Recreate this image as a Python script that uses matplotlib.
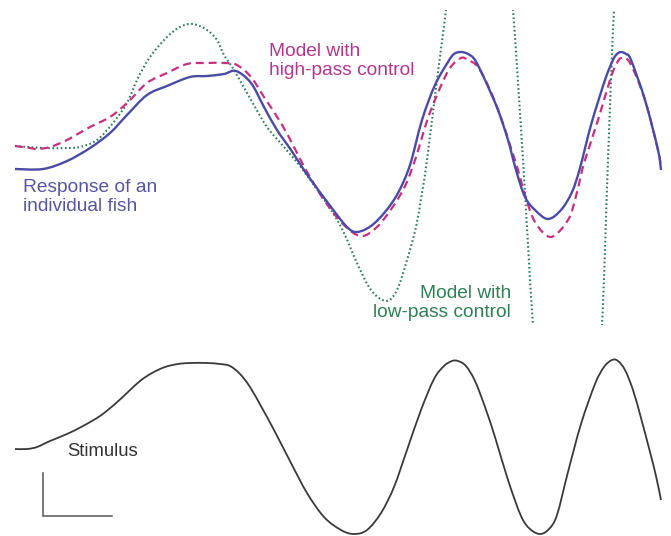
import numpy as np
import matplotlib
matplotlib.use("Agg")
import matplotlib.pyplot as plt
from matplotlib.path import Path
from matplotlib.patches import PathPatch

plt.rcParams['font.family'] = ['Liberation Sans', 'DejaVu Sans']

fish_t = [15, 43, 67, 90, 110, 127, 147, 167, 190, 207, 224, 236, 251, 264, 277, 291,
          304, 311, 331, 347, 357, 371, 385, 398, 410, 422, 435, 448, 454, 461, 468, 475,
          485, 498, 508, 516, 525, 535, 548, 561, 572, 580, 591, 605, 613, 617, 621, 626,
          631, 645, 658, 661]
fish_v = [169, 169, 161, 148, 133, 115, 95, 86, 77, 76, 74, 71, 83, 107, 130, 150,
          170, 180, 207, 227, 232, 226, 212, 193, 165, 120, 85, 62, 54, 52, 54, 60,
          80, 110, 140, 170, 197, 210, 219, 210, 192, 168, 125, 80, 60, 54, 52, 54,
          60, 100, 150, 170]

highpass_t = [15, 30, 37, 50, 67, 90, 110, 127, 147, 167, 187, 207, 224, 237, 251, 264,
              281, 294, 306, 324, 344, 361, 377, 394, 406, 416, 428, 440, 450, 461, 468,
              478, 490, 500, 510, 518, 525, 535, 551, 568, 575, 581, 585, 598, 610, 615,
              621, 630, 645, 658, 661]
highpass_v = [146, 148, 149, 147, 140, 127, 117, 103, 83, 73, 64, 63, 63, 65, 77, 97,
              123, 147, 170, 200, 225, 236, 227, 205, 184, 157, 118, 88, 68, 58, 60,
              67, 90, 115, 145, 170, 195, 222, 237, 220, 200, 175, 160, 120, 80, 67,
              58, 63, 100, 150, 167]

lowpass_t = [15, 43, 67, 80, 97, 113, 127, 137, 150, 167, 180, 193, 207, 217, 224, 234,
             251, 267, 284, 303, 331, 344, 357, 371, 386, 397, 407, 416, 422, 427, 437,
             446, 452, 465, 480, 495, 507, 513, 523, 533, 540, 560, 580, 596, 602, 608,
             614, 620]
lowpass_v = [146, 148, 148, 147, 140, 123, 103, 80, 57, 37, 27, 24, 30, 40, 55, 70,
             100, 127, 147, 170, 210, 233, 263, 290, 301, 290, 260, 227, 193, 160, 80,
             10, -40, -110, -140, -110, -40, 10, 160, 325, 380, 430, 420, 370, 325, 160,
             10, -60]

stim_t = [15, 27, 37, 50, 67, 83, 100, 115, 128, 140, 152, 165, 178, 190, 207, 220, 230,
          240, 250, 262, 274, 291, 307, 324, 341, 354, 367, 381, 394, 407, 421, 434, 444,
          452, 458, 466, 475, 485, 495, 508, 521, 530, 540, 549, 557, 568, 581, 595, 604,
          612, 618, 625, 633, 641, 650, 656, 661]
stim_v = [449, 449, 447, 441, 434, 426, 416, 404, 392, 381, 373, 367, 364, 363, 363, 364,
          366, 374, 387, 408, 430, 463, 493, 517, 530, 534, 530, 513, 487, 450, 410, 379,
          366, 361, 361, 366, 381, 407, 437, 480, 516, 529, 534, 529, 515, 472, 424, 384,
          367, 360, 361, 370, 390, 418, 452, 476, 500]


def smooth_trace(ax, t, v, **kw):
    """Draw a trace as a Catmull-Rom bezier path through the sampled points."""
    p = np.column_stack([t, v]).astype(float)
    ext = np.vstack([p[0], p, p[-1]])
    verts = [p[0]]
    codes = [Path.MOVETO]
    for i in range(1, len(ext) - 2):
        c1 = ext[i] + (ext[i + 1] - ext[i - 1]) / 6
        c2 = ext[i + 1] - (ext[i + 2] - ext[i]) / 6
        verts += [c1, c2, ext[i + 1]]
        codes += [Path.CURVE4] * 3
    patch = PathPatch(Path(verts, codes), fill=False, **kw)
    ax.add_patch(patch)
    return patch


W, H = 671, 536
fig = plt.figure(figsize=(W / 100, H / 100), dpi=100)

# whole-figure axes for the stimulus, scale bar and labels
ax = fig.add_axes([0, 0, 1, 1])
ax.set_xlim(0, W)
ax.set_ylim(H, 0)
ax.axis('off')

# response panel, clipped top and bottom like the original trace window
top, bottom = 10, 325
ax_r = fig.add_axes([0, (H - bottom) / H, 1, (bottom - top) / H])
ax_r.set_xlim(0, W)
ax_r.set_ylim(bottom, top)
ax_r.axis('off')

smooth_trace(ax_r, lowpass_t, lowpass_v, edgecolor='#2f7b5c', lw=1.5,
             linestyle=(0, (0.8, 1.2)))
smooth_trace(ax_r, highpass_t, highpass_v, edgecolor='#c8307e', lw=1.6,
             linestyle=(0, (3.6, 2.2)))
smooth_trace(ax_r, fish_t, fish_v, edgecolor='#4b4ba5', lw=1.7)

smooth_trace(ax, stim_t, stim_v, edgecolor='#3a3a3a', lw=1.3)

# scale bar
ax.plot([43, 43, 112], [473, 516, 516], color='#555555', lw=1.1,
        solid_joinstyle='miter')

ax.text(269, 61, "Model with\nhigh-pass control", color='#b3368e',
        fontsize=13.8, ha='left', va='center', linespacing=1.15)
ax.text(23, 197, "Response of an\nindividual fish", color='#5656a0',
        fontsize=13.8, ha='left', va='center', linespacing=1.15)
ax.text(511, 303, "Model with\nlow-pass control", color='#2f7f55',
        fontsize=13.8, ha='right', va='center', multialignment='right',
        linespacing=1.15)
ax.text(67, 452, "Stimulus", color='#333333', fontsize=13.3,
        ha='left', va='center')

fig.savefig('out.png', dpi=100)
